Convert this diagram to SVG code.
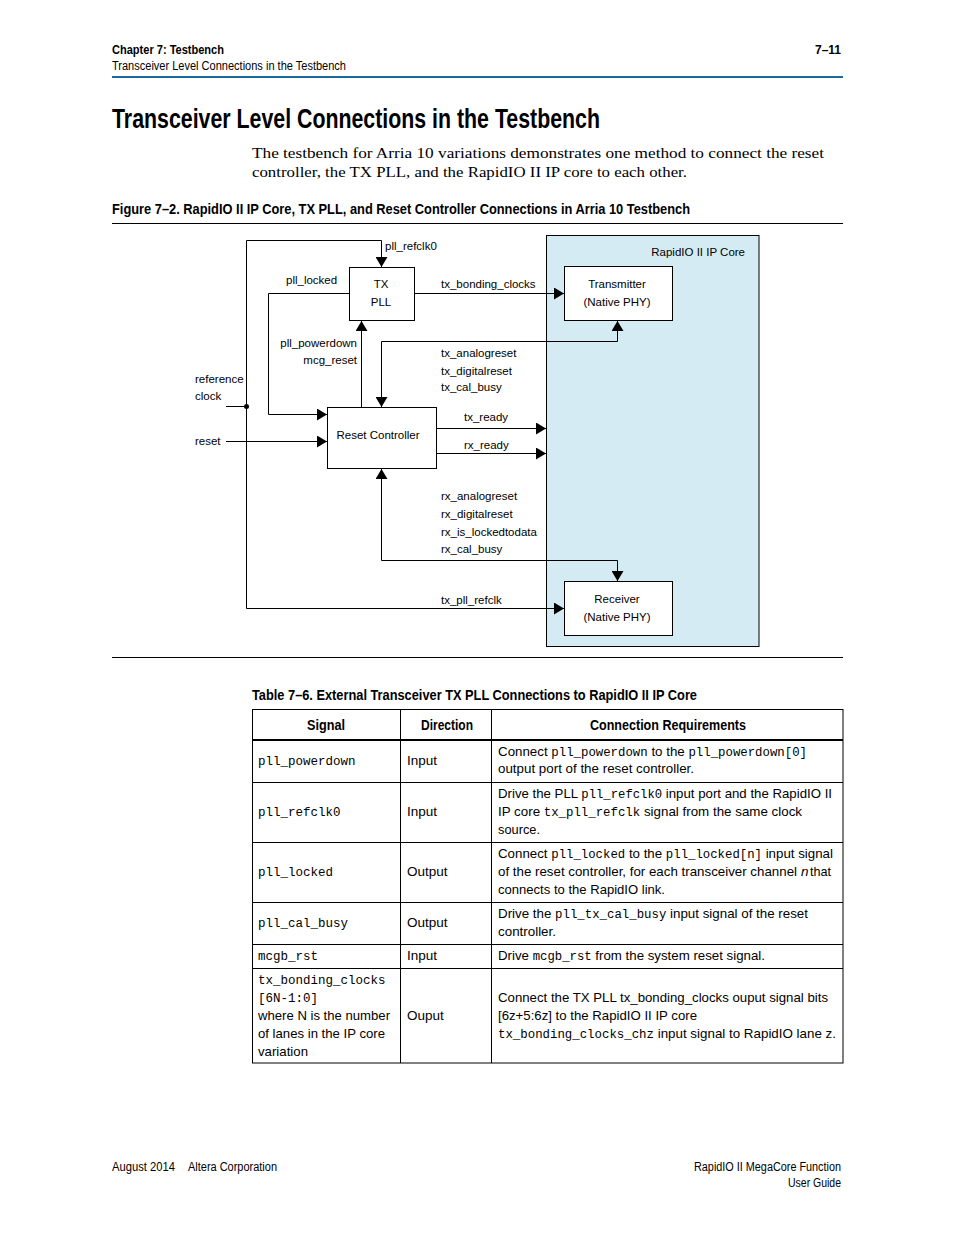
<svg xmlns="http://www.w3.org/2000/svg" width="954" height="1235" viewBox="0 0 954 1235">
<defs>
<style>
.hb{font-family:"Liberation Sans Narrow","Liberation Sans",Arial,sans-serif;font-weight:bold;fill:#000}
.hr{font-family:"Liberation Sans Narrow","Liberation Sans",Arial,sans-serif;fill:#000}
.body{font-family:"Liberation Serif","Times New Roman",serif;font-size:15.5px;fill:#000}
.d{font-family:"Liberation Sans",Arial,sans-serif;font-size:11.5px;fill:#000}
.t{font-family:"Liberation Sans",Arial,sans-serif;font-size:13.5px;fill:#000}
.m{font-family:"Liberation Mono","Courier New",monospace;font-size:12.5px}
.box{fill:#fff;stroke:#000;stroke-width:1}
.w{fill:none;stroke:#000;stroke-width:1}
</style>
<marker id="a" viewBox="0 0 10 12" refX="10" refY="6" markerWidth="10" markerHeight="12" markerUnits="userSpaceOnUse" orient="auto-start-reverse">
<path d="M0,0 L10,6 L0,12 z" fill="#000"/>
</marker>
</defs>
<rect width="954" height="1235" fill="#fff"/>

<g id="page-header">
<text class="hb" x="112" y="54" font-size="12" textLength="112" lengthAdjust="spacingAndGlyphs">Chapter 7:  Testbench</text>
<text class="hb" x="841" y="54" font-size="12" text-anchor="end">7–11</text>
<text class="hr" x="112" y="70" font-size="12" textLength="234" lengthAdjust="spacingAndGlyphs">Transceiver Level Connections in the Testbench</text>
<line x1="112" y1="77" x2="843" y2="77" stroke="#1a6aa0" stroke-width="2"/>
</g>

<g id="section">
<text class="hb" x="112" y="128" font-size="27" textLength="488" lengthAdjust="spacingAndGlyphs">Transceiver Level Connections in the Testbench</text>
<text class="body" x="252" y="158" textLength="572" lengthAdjust="spacingAndGlyphs">The testbench for Arria 10 variations demonstrates one method to connect the reset</text>
<text class="body" x="252" y="177" textLength="435" lengthAdjust="spacingAndGlyphs">controller, the TX PLL, and the RapidIO II IP core to each other.</text>
<text class="hb" x="112" y="214" font-size="14" textLength="578" lengthAdjust="spacingAndGlyphs">Figure 7–2.  RapidIO II IP Core, TX PLL, and Reset Controller Connections in Arria 10 Testbench</text>
<line x1="112" y1="223.5" x2="843" y2="223.5" stroke="#000" stroke-width="1"/>
</g>

<g id="rapidio-core">
<rect x="546.5" y="235.5" width="212.5" height="411" fill="#d5ebf3" stroke="#000" stroke-width="1"/>
<text class="d" x="745" y="256" text-anchor="end">RapidIO II IP Core</text>
</g>

<g id="tx-pll">
<rect class="box" x="349.5" y="267.5" width="65" height="53"/>
<text class="d" x="381" y="288" text-anchor="middle">TX</text>
<text class="d" x="381" y="306" text-anchor="middle">PLL</text>
</g>

<g id="transmitter">
<rect class="box" x="564.5" y="266.5" width="108" height="54"/>
<text class="d" x="617" y="288" text-anchor="middle">Transmitter</text>
<text class="d" x="617" y="306" text-anchor="middle">(Native PHY)</text>
</g>

<g id="reset-controller">
<rect class="box" x="327.5" y="407.5" width="109" height="61"/>
<text class="d" x="378" y="439" text-anchor="middle">Reset Controller</text>
</g>

<g id="receiver">
<rect class="box" x="564.5" y="581.5" width="108" height="54"/>
<text class="d" x="617" y="603" text-anchor="middle">Receiver</text>
<text class="d" x="617" y="621" text-anchor="middle">(Native PHY)</text>
</g>

<g id="connectors">
<path class="w" d="M246.5,406 V240.5 H381.5 V267" marker-end="url(#a)"/>
<path class="w" d="M246.5,406 V608.5 H564" marker-end="url(#a)"/>
<path class="w" d="M226,406.5 H246.5"/>
<circle cx="246.5" cy="406.5" r="2.5" fill="#000"/>
<path class="w" d="M349,293.5 H268.5 V414.5 H327" marker-end="url(#a)"/>
<path class="w" d="M361.5,407 V321" marker-end="url(#a)"/>
<path class="w" d="M415,293.5 H564" marker-end="url(#a)"/>
<path class="w" d="M617.5,321 V341.5 H381.5 V407" marker-start="url(#a)" marker-end="url(#a)"/>
<path class="w" d="M437,428.5 H546" marker-end="url(#a)"/>
<path class="w" d="M437,453.5 H546" marker-end="url(#a)"/>
<path class="w" d="M381.5,469 V560.5 H617.5 V581" marker-start="url(#a)" marker-end="url(#a)"/>
<path class="w" d="M226,441.5 H327" marker-end="url(#a)"/>
</g>

<g id="connector-labels">
<text class="d" x="385" y="250">pll_refclk0</text>
<text class="d" x="286" y="284">pll_locked</text>
<text class="d" x="441" y="288">tx_bonding_clocks</text>
<text class="d" x="357" y="347" text-anchor="end">pll_powerdown</text>
<text class="d" x="357" y="364" text-anchor="end">mcg_reset</text>
<text class="d" x="441" y="357">tx_analogreset</text>
<text class="d" x="441" y="375">tx_digitalreset</text>
<text class="d" x="441" y="391">tx_cal_busy</text>
<text class="d" x="195" y="383">reference</text>
<text class="d" x="195" y="400">clock</text>
<text class="d" x="464" y="421">tx_ready</text>
<text class="d" x="464" y="449">rx_ready</text>
<text class="d" x="195" y="445">reset</text>
<text class="d" x="441" y="500">rx_analogreset</text>
<text class="d" x="441" y="518">rx_digitalreset</text>
<text class="d" x="441" y="536">rx_is_lockedtodata</text>
<text class="d" x="441" y="553">rx_cal_busy</text>
<text class="d" x="441" y="604">tx_pll_refclk</text>
</g>

<line x1="112" y1="657.5" x2="843" y2="657.5" stroke="#000" stroke-width="1"/>

<g id="table">
<text class="hb" x="252" y="700" font-size="14" textLength="445" lengthAdjust="spacingAndGlyphs">Table 7–6.  External Transceiver TX PLL Connections to RapidIO II IP Core</text>
<rect x="252.5" y="709.5" width="590.5" height="353.5" fill="none" stroke="#000" stroke-width="1"/>
<line x1="252" y1="740" x2="843" y2="740" stroke="#000" stroke-width="2"/>
<g stroke="#000" stroke-width="1">
<line x1="400.5" y1="709" x2="400.5" y2="1063"/>
<line x1="491.5" y1="709" x2="491.5" y2="1063"/>
<line x1="252" y1="782.5" x2="843" y2="782.5"/>
<line x1="252" y1="842.5" x2="843" y2="842.5"/>
<line x1="252" y1="902.5" x2="843" y2="902.5"/>
<line x1="252" y1="944.5" x2="843" y2="944.5"/>
<line x1="252" y1="968.5" x2="843" y2="968.5"/>
</g>
<text class="hb" x="307" y="730" font-size="14" textLength="38" lengthAdjust="spacingAndGlyphs">Signal</text>
<text class="hb" x="421" y="730" font-size="14" textLength="52" lengthAdjust="spacingAndGlyphs">Direction</text>
<text class="hb" x="590" y="730" font-size="14" textLength="156" lengthAdjust="spacingAndGlyphs">Connection Requirements</text>

<text class="m" x="258" y="765">pll_powerdown</text>
<text class="t" x="407" y="765">Input</text>
<text class="t" x="498" y="756" textLength="309" lengthAdjust="spacingAndGlyphs">Connect <tspan class="m">pll_powerdown</tspan> to the <tspan class="m">pll_powerdown[0]</tspan></text>
<text class="t" x="498" y="773" textLength="196" lengthAdjust="spacingAndGlyphs">output port of the reset controller.</text>

<text class="m" x="258" y="816">pll_refclk0</text>
<text class="t" x="407" y="816">Input</text>
<text class="t" x="498" y="798" textLength="334" lengthAdjust="spacingAndGlyphs">Drive the PLL <tspan class="m">pll_refclk0</tspan> input port and the RapidIO II</text>
<text class="t" x="498" y="816" textLength="304" lengthAdjust="spacingAndGlyphs">IP core <tspan class="m">tx_pll_refclk</tspan> signal from the same clock</text>
<text class="t" x="498" y="834" textLength="42" lengthAdjust="spacingAndGlyphs">source.</text>

<text class="m" x="258" y="876">pll_locked</text>
<text class="t" x="407" y="876">Output</text>
<text class="t" x="498" y="858" textLength="335" lengthAdjust="spacingAndGlyphs">Connect <tspan class="m">pll_locked</tspan> to the <tspan class="m">pll_locked[n]</tspan> input signal</text>
<text class="t" x="498" y="876" textLength="299" lengthAdjust="spacingAndGlyphs">of the reset controller, for each transceiver channel</text>
<text class="t" x="801" y="876" font-style="italic">n</text>
<text class="t" x="810" y="876" textLength="21" lengthAdjust="spacingAndGlyphs">that</text>
<text class="t" x="498" y="894" textLength="167" lengthAdjust="spacingAndGlyphs">connects to the RapidIO link.</text>

<text class="m" x="258" y="927">pll_cal_busy</text>
<text class="t" x="407" y="927">Output</text>
<text class="t" x="498" y="918" textLength="310" lengthAdjust="spacingAndGlyphs">Drive the <tspan class="m">pll_tx_cal_busy</tspan> input signal of the reset</text>
<text class="t" x="498" y="936" textLength="58" lengthAdjust="spacingAndGlyphs">controller.</text>

<text class="m" x="258" y="960">mcgb_rst</text>
<text class="t" x="407" y="960">Input</text>
<text class="t" x="498" y="960" textLength="267" lengthAdjust="spacingAndGlyphs">Drive <tspan class="m">mcgb_rst</tspan> from the system reset signal.</text>

<text class="m" x="258" y="984">tx_bonding_clocks</text>
<text class="m" x="258" y="1002">[6N-1:0]</text>
<text class="t" x="258" y="1020" textLength="132" lengthAdjust="spacingAndGlyphs">where N is the number</text>
<text class="t" x="258" y="1038" textLength="127" lengthAdjust="spacingAndGlyphs">of lanes in the IP core</text>
<text class="t" x="258" y="1056" textLength="50" lengthAdjust="spacingAndGlyphs">variation</text>
<text class="t" x="407" y="1020">Ouput</text>
<text class="t" x="498" y="1002" textLength="330" lengthAdjust="spacingAndGlyphs">Connect the TX PLL tx_bonding_clocks ouput signal bits</text>
<text class="t" x="498" y="1020" textLength="199" lengthAdjust="spacingAndGlyphs">[6z+5:6z] to the RapidIO II IP core</text>
<text class="t" x="498" y="1038" textLength="338" lengthAdjust="spacingAndGlyphs"><tspan class="m">tx_bonding_clocks_chz</tspan>  input signal to RapidIO lane z.</text>
</g>

<g id="page-footer">
<text class="hr" x="112" y="1171" font-size="12" textLength="63" lengthAdjust="spacingAndGlyphs">August 2014</text>
<text class="hr" x="188" y="1171" font-size="12" textLength="89" lengthAdjust="spacingAndGlyphs">Altera Corporation</text>
<text class="hr" x="694" y="1171" font-size="12" textLength="147" lengthAdjust="spacingAndGlyphs">RapidIO II MegaCore Function</text>
<text class="hr" x="788" y="1187" font-size="12" textLength="53" lengthAdjust="spacingAndGlyphs">User Guide</text>
</g>
</svg>
